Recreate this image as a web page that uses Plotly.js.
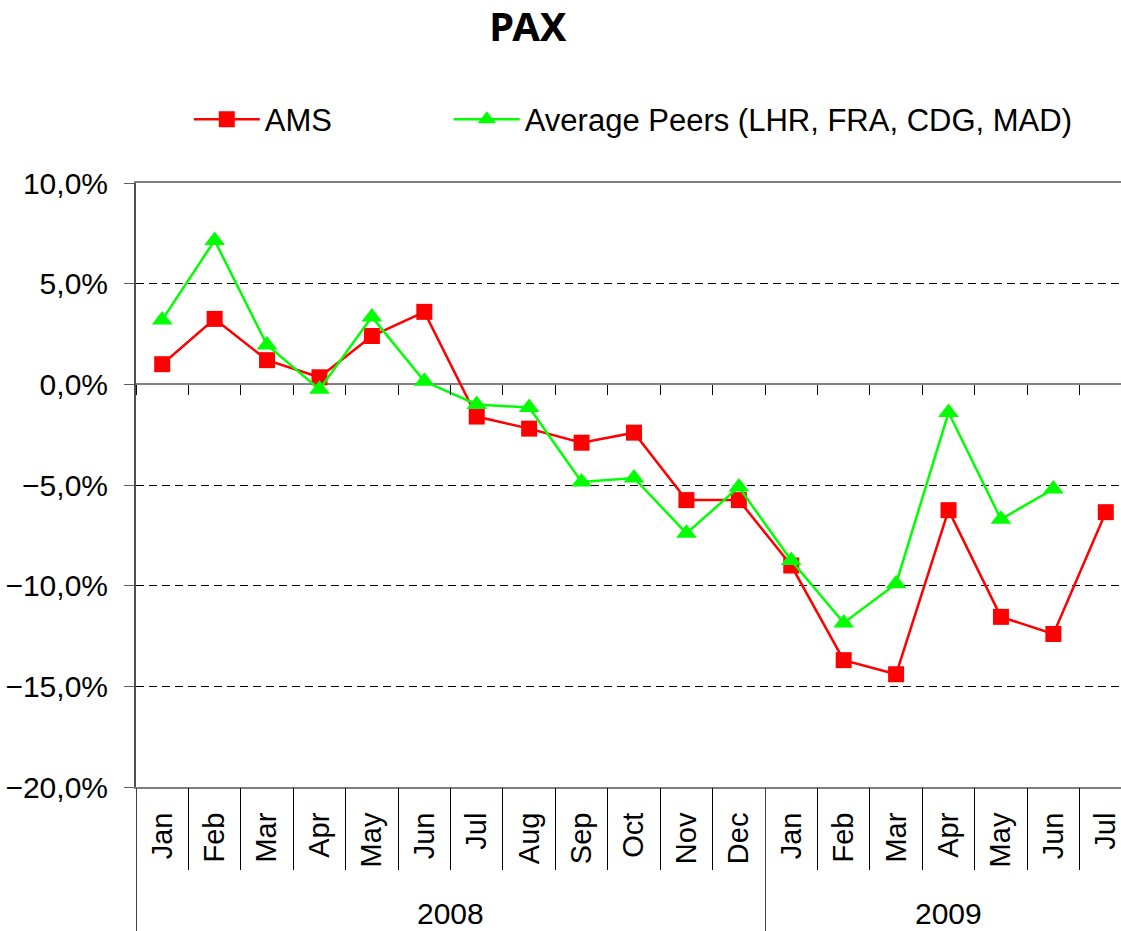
<!DOCTYPE html>
<html><head><meta charset="utf-8">
<script src="https://cdn.plot.ly/plotly-3.0.1.min.js"></script>
<style>html,body{margin:0;padding:0;overflow:hidden;background:#fff}#chart{width:1140px;height:931px}</style>
</head><body><div id="chart"></div>
<script>
const months = ["Jan","Feb","Mar","Apr","May","Jun","Jul","Aug","Sep","Oct","Nov","Dec","Jan","Feb","Mar","Apr","May","Jun","Jul"];
const years = ["2008","2008","2008","2008","2008","2008","2008","2008","2008","2008","2008","2008","2009","2009","2009","2009","2009","2009","2009"];
const ams = [1.0, 3.25, 1.2, 0.35, 2.4, 3.6, -1.6, -2.2, -2.9, -2.4, -5.75, -5.75, -9.0, -13.7, -14.4, -6.25, -11.55, -12.4, -6.35];
const peers = [3.2, 7.15, 1.95, -0.25, 3.35, 0.15, -1.0, -1.15, -4.85, -4.65, -7.4, -5.1, -8.75, -11.85, -9.9, -1.4, -6.7, -5.2, null];
const seriesNames = ["AMS", "Average Peers (LHR, FRA, CDG, MAD)"];

const xIdx = months.map((_, i) => i);
const yearNames = [...new Set(years)];
const yearCenters = yearNames.map(y => {
  const idx = xIdx.filter(i => years[i] === y);
  return (idx[0] + idx[idx.length - 1]) / 2;
});

const FONT = 'Liberation Sans, Arial, sans-serif';
const traces = [
  {x: xIdx, y: ams, name: seriesNames[0], type: 'scatter', mode: 'lines+markers', legend: 'legend',
   line: {color: '#FF0000', width: 2.5}, marker: {symbol: 'square', size: 16, color: '#FF0000'}, cliponaxis: false},
  {x: xIdx, y: peers, name: seriesNames[1], type: 'scatter', mode: 'lines+markers', legend: 'legend2',
   line: {color: '#00FF00', width: 2.5}, marker: {symbol: 'triangle-up', size: 18, color: '#00FF00'}, cliponaxis: false}
];
// carrier traces (draw nothing) so the category-separator axes are rendered
['x2', 'x3', 'x4'].forEach(ax => traces.push({x: xIdx, y: ams, xaxis: ax, yaxis: 'y', type: 'scatter',
  mode: 'none', showlegend: false, hoverinfo: 'skip'}));

const sepAxis = (pos, len, dtick, color) => ({
  overlaying: 'x', anchor: 'free', position: pos, range: [-0.5, 18.5],
  tickmode: 'linear', tick0: -0.5, dtick: dtick, ticks: 'outside', ticklen: len,
  tickcolor: color, tickwidth: 1, showticklabels: false, showline: false,
  showgrid: false, zeroline: false, side: 'bottom', fixedrange: true
});

const legendBase = {orientation: 'h', xref: 'paper', yref: 'paper', y: 1.105, xanchor: 'left', yanchor: 'middle',
  font: {family: FONT, size: 31, color: '#000'}, itemwidth: 66, bgcolor: 'rgba(0,0,0,0)'};

const layout = {
  width: 1140, height: 931,
  margin: {l: 136, r: 8, t: 183, b: 144},
  paper_bgcolor: '#fff', plot_bgcolor: '#fff',
  font: {family: FONT, color: '#000'},
  separators: ',.',
  title: {text: '<b>PAX</b>', font: {family: 'Noto Sans, sans-serif', size: 40, color: '#000'},
          xref: 'container', x: 528/1140, xanchor: 'center', yref: 'container', y: 1 - 27/931, yanchor: 'middle'},
  showlegend: true,
  legend: Object.assign({}, legendBase, {x: 0.053}),
  legend2: Object.assign({}, legendBase, {x: 0.314}),
  xaxis: {range: [-0.5, 18.5], tickmode: 'array', tickvals: xIdx, ticktext: months, tickangle: -90,
          tickfont: {family: FONT, size: 29}, ticks: '', showline: true, linecolor: '#808080', linewidth: 2,
          mirror: true, showgrid: false, zeroline: false, ticklabelstandoff: 12},
  xaxis2: sepAxis(2/3, 10, 1, '#000'),
  xaxis3: sepAxis(0, 82, 1, '#000'),
  xaxis4: sepAxis(0, 144, 12, '#404040'),
  yaxis: {range: [-20, 10], tick0: 0, dtick: 5, tickformat: '.1f', ticksuffix: '%',
          showline: true, linecolor: '#505050', linewidth: 2, ticks: 'outside', ticklen: 10, tickcolor: '#606060',
          showgrid: true, gridcolor: '#000', gridwidth: 1, griddash: '8px,5px',
          zeroline: true, zerolinecolor: '#808080', zerolinewidth: 2,
          tickfont: {family: FONT, size: 30}, ticklabelstandoff: 10},
  annotations: yearNames.map((y, k) => ({x: yearCenters[k], xref: 'x', y: -0.21, yref: 'paper',
    text: y, showarrow: false, font: {family: FONT, size: 30, color: '#000'}, xanchor: 'center', yanchor: 'middle'}))
};

Plotly.newPlot('chart', traces, layout, {displayModeBar: false, staticPlot: true});
</script>
</body></html>
